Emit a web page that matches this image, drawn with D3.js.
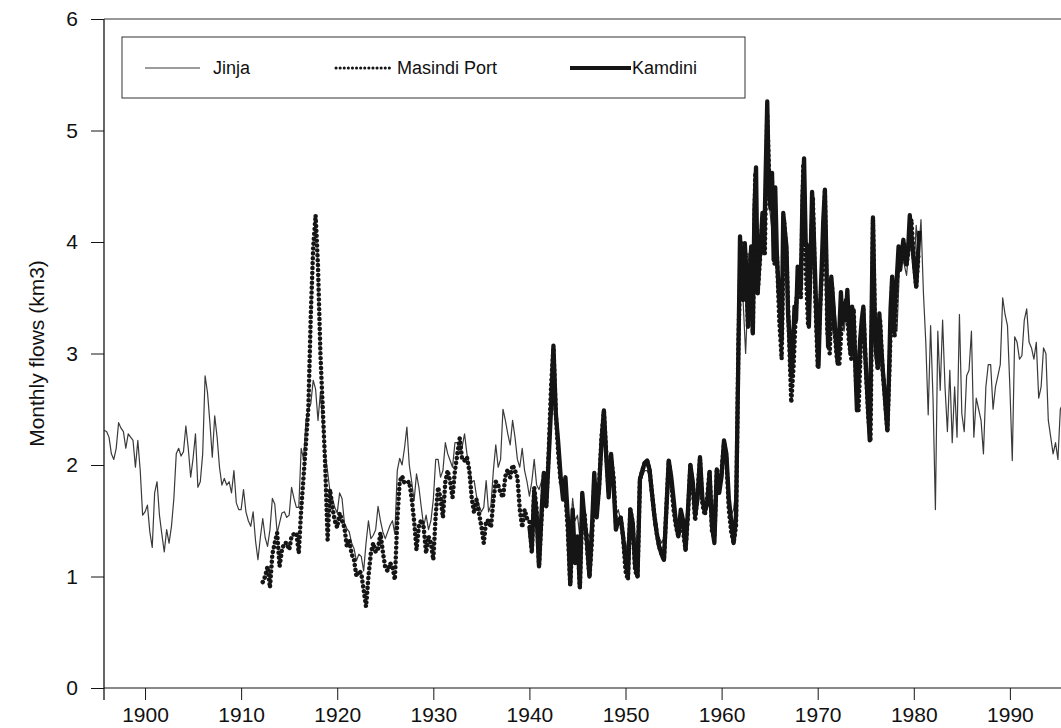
<!DOCTYPE html>
<html><head><meta charset="utf-8">
<script src="https://cdn.jsdelivr.net/npm/d3@7"></script>
<style>
body{margin:0;background:#fff;}
svg text{font-family:"Liberation Sans",Arial,Helvetica,sans-serif;fill:#111;}
</style></head><body>
<svg id="chart" width="1061" height="728"></svg>
<script>
// ---- data (readings of monthly flows, km3) ----
const step = 0.25;          // quarterly readings
const stepFine = 1/6;       // bimonthly readings (Kamdini after 1961)
const jinjaStart = 1895.75;
const jinjaFlows = [
2.31,2.30,2.25,2.10,2.05,2.15,2.38,2.33,2.30,2.15,
2.28,2.25,2.22,1.98,2.22,1.95,1.55,1.58,1.64,1.40,
1.26,1.75,1.85,1.55,1.38,1.22,1.42,1.30,1.45,1.70,
2.10,2.15,2.08,2.12,2.35,2.15,1.89,2.06,2.28,1.80,
1.85,2.10,2.80,2.65,2.38,2.07,2.44,2.25,1.98,1.82,
1.88,1.82,1.85,1.75,1.95,1.66,1.60,1.60,1.78,1.58,
1.50,1.45,1.58,1.32,1.15,1.35,1.52,1.35,1.27,
1.42,1.70,1.65,1.39,1.48,1.57,1.58,1.53,1.55,1.80,
1.70,1.62,1.62,2.15,2.05,2.40,2.50,2.55,2.76,2.68,
2.40,2.65,2.35,2.10,1.94,1.76,1.70,1.62,1.57,1.75,
1.70,1.48,1.43,1.40,1.30,1.25,1.14,1.20,1.18,1.05,
1.30,1.50,1.34,1.37,1.42,1.63,1.50,1.40,1.34,1.40,
1.46,1.50,1.38,1.95,2.06,2.00,2.15,2.34,2.00,1.85,
1.68,1.92,1.80,1.62,1.45,1.55,1.42,1.50,1.69,2.05,
2.05,1.89,1.95,2.20,2.10,2.04,1.98,2.20,2.20,2.10,
2.16,2.28,2.10,1.98,1.85,1.86,1.72,1.64,1.58,1.62,
1.86,1.58,1.64,1.95,2.18,1.98,2.05,2.50,2.40,2.28,
2.18,2.40,2.25,2.05,1.98,2.15,1.95,1.85,1.72,
1.85,2.05,1.82,1.78,1.85,1.92,1.65,1.95,2.55,2.95,
2.45,2.10,1.80,1.85,1.60,1.45,1.40,1.70,1.50,1.55,
1.35,1.75,1.55,1.40,1.35,1.50,1.90,1.65,1.85,2.30,
2.40,2.05,1.80,2.05,1.85,1.55,1.60,1.50,1.40,1.20,
1.35,1.60,1.50,1.20,1.40,1.85,1.90,1.95,1.95,1.90,
1.70,1.45,1.40,1.35,1.30,1.35,1.65,1.95,1.80,1.55,
1.45,1.40,1.60,1.35,1.45,1.60,1.95,1.75,1.55,1.80,
1.95,1.65,1.60,1.75,1.85,1.45,1.70,1.90,1.75,2.05,
2.15,1.90,1.65,1.55,1.60,1.80,3.20,
3.75,3.45,3.00,3.55,3.80,3.60,4.10,3.70,3.95,4.05,
4.30,4.60,4.30,4.10,4.00,3.70,3.40,3.50,3.95,3.70,
3.40,3.15,3.35,3.55,3.70,3.90,4.30,4.00,3.60,4.05,
3.90,3.55,3.25,3.50,3.95,4.15,3.70,3.30,3.20,3.45,
3.20,3.25,3.35,3.20,3.40,3.20,3.30,3.10,2.85,3.05,
3.25,3.10,2.85,2.60,3.10,3.80,3.10,3.30,3.25,3.00,
2.75,2.60,3.00,3.50,3.30,3.20,3.75,3.85,3.80,3.70,
3.95,4.10,3.70,4.15,3.90,4.20,
3.55,3.10,2.45,3.25,2.60,1.60,3.20,2.67,3.30,2.70,
2.30,2.85,2.20,2.70,2.25,3.35,2.46,2.30,2.80,2.85,
3.20,2.25,2.60,2.50,2.40,2.10,2.70,2.90,2.90,2.50,
2.70,2.80,2.90,3.50,3.35,3.25,2.70,2.04,3.15,3.10,
2.95,2.98,3.30,3.40,3.10,3.05,2.95,3.10,2.60,2.70,
3.05,3.00,2.40,2.25,2.10,2.20,2.05,2.50,2.55
];
const masindiStart = 1912.25;
const masindiFlows = [
0.95,1.00,1.09,0.90,1.20,1.30,1.39,1.09,1.24,1.30,
1.30,1.24,1.36,1.38,1.39,1.21,1.60,1.90,2.20,2.52,
3.35,3.95,4.24,3.78,3.00,2.50,2.00,1.33,1.78,1.62,
1.50,1.44,1.57,1.50,1.44,1.27,1.33,1.20,1.15,1.00,
1.05,1.03,0.88,0.73,1.00,1.21,1.30,1.22,1.25,1.39,
1.22,1.08,1.05,1.12,1.09,0.97,1.50,1.85,1.90,1.84,
1.84,1.85,1.70,1.50,1.24,1.45,1.51,1.44,1.21,1.36,
1.30,1.15,1.55,1.80,1.70,1.53,1.85,1.95,1.85,1.71,
1.95,2.10,2.24,2.05,2.04,2.07,1.95,1.70,1.57,1.69,
1.57,1.45,1.30,1.50,1.50,1.44,1.69,1.85,1.82,1.75,
1.71,1.90,1.96,1.89,2.00,1.95,1.89,1.60,1.44,1.60,
1.52,
1.50,1.21,1.80,1.60,1.10,1.50,1.90,1.63,2.10,2.70,
3.05,2.46,2.10,1.85,1.80,1.75,1.40,0.92,1.40,1.20,
1.36,0.90,1.60,1.55,1.25,1.00,1.30,1.85,1.60,1.80,
2.25,2.48,2.10,1.75,2.05,1.90,1.48,1.50,1.53,1.35,
1.05,0.97,1.60,1.48,1.05,1.00,1.87,1.95,2.02,2.04,
1.96,1.75,1.55,1.39,1.27,1.20,1.15,1.60,2.04,1.85,
1.60,1.45,1.36,1.55,1.40,1.24,1.55,2.00,1.80,1.50,
1.75,2.05,1.65,1.55,1.70,1.95,1.40,1.35,1.95,1.80,
1.95,2.20,2.05,1.60,1.40,1.30,1.45,3.10,4.00,3.48,
3.90,3.24,3.90,3.18,4.60,3.54,3.85,4.20,3.90,5.15,
4.45,4.55,3.80,3.90,3.30,2.95,4.20,3.90,3.20,2.56,
2.90,3.42,3.70,3.50,4.70,3.80,3.25,3.80,4.40,3.50,
2.88,3.40,3.80,4.45,3.20,3.00,3.60,3.20,2.95,2.90,
3.25,3.40,3.50,3.10,2.95,3.40,2.70,2.49,3.10,3.40,
2.90,2.45,2.22,4.20,3.10,2.85,3.30,2.85,2.60,2.30,
2.95,3.65,3.15,3.65,3.90,3.85,4.00,3.80,3.95,4.20,
3.85,3.60,3.90
];
const kamdiniStart = 1940.0;
const kamdiniFlows = [          // quarterly, 1940.0 - 1961.5
1.45,1.25,1.75,1.55,1.09,1.55,1.93,1.63,2.05,2.50,
3.07,2.46,2.20,1.90,1.69,1.89,1.53,0.94,1.60,1.12,
1.36,0.91,1.75,1.50,1.30,1.00,1.42,1.93,1.53,1.80,
2.20,2.49,2.07,1.71,2.10,1.84,
1.42,1.50,1.53,1.36,1.15,1.00,1.60,1.48,1.10,1.00,
1.87,1.95,2.02,2.04,1.96,1.75,1.55,1.39,1.27,1.20,
1.15,1.60,2.04,1.90,1.70,1.48,1.36,1.60,1.50,1.24,
1.60,2.00,1.85,1.55,1.70,2.07,1.70,1.58,1.65,1.93,
1.45,1.30,1.96,1.75,1.90,2.22,2.10,1.70,1.50,1.30,
1.55
];
const kamdiniLateStart = 1961.75;
const kamdiniLateFlows = [      // bimonthly, 1961.75 - 1980.58
3.00,4.05,3.60,3.48,3.99,3.70,3.24,3.70,3.96,3.18,
4.30,4.67,3.54,3.80,4.00,4.26,3.90,4.60,5.26,4.49,
4.30,4.62,3.84,4.49,3.90,3.60,3.40,3.12,4.26,4.10,
3.96,3.36,3.10,2.80,3.00,3.42,3.30,3.78,3.70,3.60,
4.40,4.75,4.00,3.96,3.24,3.80,4.45,4.10,3.66,3.20,
2.88,3.40,3.78,4.20,4.47,3.80,3.06,3.40,3.69,3.50,
3.27,3.10,2.91,3.20,3.55,3.27,3.45,3.30,3.57,3.25,
3.00,3.42,3.30,2.90,2.49,2.80,3.12,3.30,3.42,3.05,
2.76,2.50,2.22,3.20,4.22,3.40,3.00,2.88,3.36,3.10,
2.88,2.70,2.50,2.31,2.80,3.40,3.69,3.20,3.50,3.70,
3.96,3.75,3.90,4.02,3.85,3.80,3.95,4.24,4.05,3.90,
3.75,3.60,3.85,4.10
];
const yearTicks = [1900,1910,1920,1930,1940,1950,1960,1970,1980,1990];
const flowTicks = [0,1,2,3,4,5,6];
const seriesNames = ["Jinja","Masindi Port","Kamdini"];
const yTitle = "Monthly flows (km3)";

// ---- layout ----
const W = 1061, H = 728;
const margin = {left:104, right:0, top:19, bottom:40};
const svg = d3.select("#chart");
const x = d3.scaleLinear().domain([1895.73, 1995.32]).range([margin.left, W - margin.right]);
const y = d3.scaleLinear().domain([0, 6]).range([H - margin.bottom, margin.top]);

const ink = "#151515";

svg.append("defs").append("clipPath").attr("id","plotclip")
  .append("rect").attr("x", margin.left).attr("y", 0)
  .attr("width", W - margin.left).attr("height", H - margin.bottom + 8);

const toPts = (start, arr, st) => arr.map((v,i) => ({t: start + i*st, v}));
const line = d3.line().x(d => x(d.t)).y(d => y(d.v));

const series = [
  {name: seriesNames[0], pts: toPts(jinjaStart, jinjaFlows, step), stroke:"#3a3a3a", width:1.2, dash:null, cap:"butt"},
  {name: seriesNames[2], pts: toPts(kamdiniStart, kamdiniFlows, step).concat(toPts(kamdiniLateStart, kamdiniLateFlows, stepFine)),
     stroke:ink, width:4.3, dash:null, cap:"butt"},
  {name: seriesNames[1], pts: toPts(masindiStart, masindiFlows, step), stroke:ink, width:4.5, dash:"0.1 4.8", cap:"round"}
];

const plot = svg.append("g").attr("clip-path","url(#plotclip)");
series.forEach(s => {
  plot.append("path").datum(s.pts)
    .attr("d", line)
    .attr("fill","none")
    .attr("stroke", s.stroke)
    .attr("stroke-width", s.width)
    .attr("stroke-linejoin","round")
    .attr("stroke-linecap", s.cap)
    .attr("stroke-dasharray", s.dash);
});

// ---- axes ----
const xAxis = d3.axisBottom(x).tickValues(yearTicks).tickSize(12).tickSizeOuter(0)
  .tickPadding(7).tickFormat(d3.format("d"));
const gx = svg.append("g").attr("transform", `translate(0,${y(0)})`).call(xAxis);
gx.select(".domain").remove();
gx.selectAll("line").attr("stroke", ink).attr("stroke-width", 1);
gx.selectAll("text").attr("font-size", 21).attr("fill", ink);

const yAxis = d3.axisLeft(y).tickValues(flowTicks).tickSize(13).tickSizeOuter(0)
  .tickPadding(13).tickFormat(d3.format("d"));
const gy = svg.append("g").attr("transform", `translate(${x(1895.73)},0)`).call(yAxis);
gy.select(".domain").remove();
gy.selectAll("line").attr("stroke", ink).attr("stroke-width", 1);
gy.selectAll("text").attr("font-size", 21).attr("fill", ink);

// frame lines
const x0 = x(1895.73);
svg.append("line").attr("x1", x0).attr("x2", x0).attr("y1", y(6)).attr("y2", y(0) + 12)
  .attr("stroke", ink).attr("stroke-width", 1.3);
svg.append("line").attr("x1", x0).attr("x2", W).attr("y1", y(0)).attr("y2", y(0))
  .attr("stroke", ink).attr("stroke-width", 1.2);
svg.append("line").attr("x1", x0).attr("x2", W).attr("y1", y(6)).attr("y2", y(6))
  .attr("stroke", "#333").attr("stroke-width", 1);

// y title
svg.append("text")
  .attr("transform", `translate(38,${(y(0)+y(6))/2}) rotate(-90)`)
  .attr("text-anchor","middle").attr("dominant-baseline","middle")
  .attr("font-size", 21).text(yTitle);

// ---- legend ----
const lg = svg.append("g");
lg.append("rect").attr("x", 122).attr("y", 37).attr("width", 623).attr("height", 61)
  .attr("fill","#fff").attr("stroke","#333").attr("stroke-width", 1);
const legendItems = [
  {s: series[0], x1: 145, x2: 200, tx: 213, w: 1.2, dash: null},
  {s: series[2], x1: 336, x2: 392, tx: 397, w: 3, dash: "0.1 4"},
  {s: series[1], x1: 570, x2: 631, tx: 632, w: 4, dash: null}
];
legendItems.forEach(it => {
  lg.append("line").attr("x1", it.x1).attr("x2", it.x2).attr("y1", 68).attr("y2", 68)
    .attr("stroke", it.s.stroke).attr("stroke-width", it.w)
    .attr("stroke-linecap", it.dash ? "round" : "butt").attr("stroke-dasharray", it.dash);
  lg.append("text").attr("x", it.tx).attr("y", 68).attr("dy", "0.35em")
    .attr("font-size", 18).text(it.s.name);
});
</script>
</body></html>
